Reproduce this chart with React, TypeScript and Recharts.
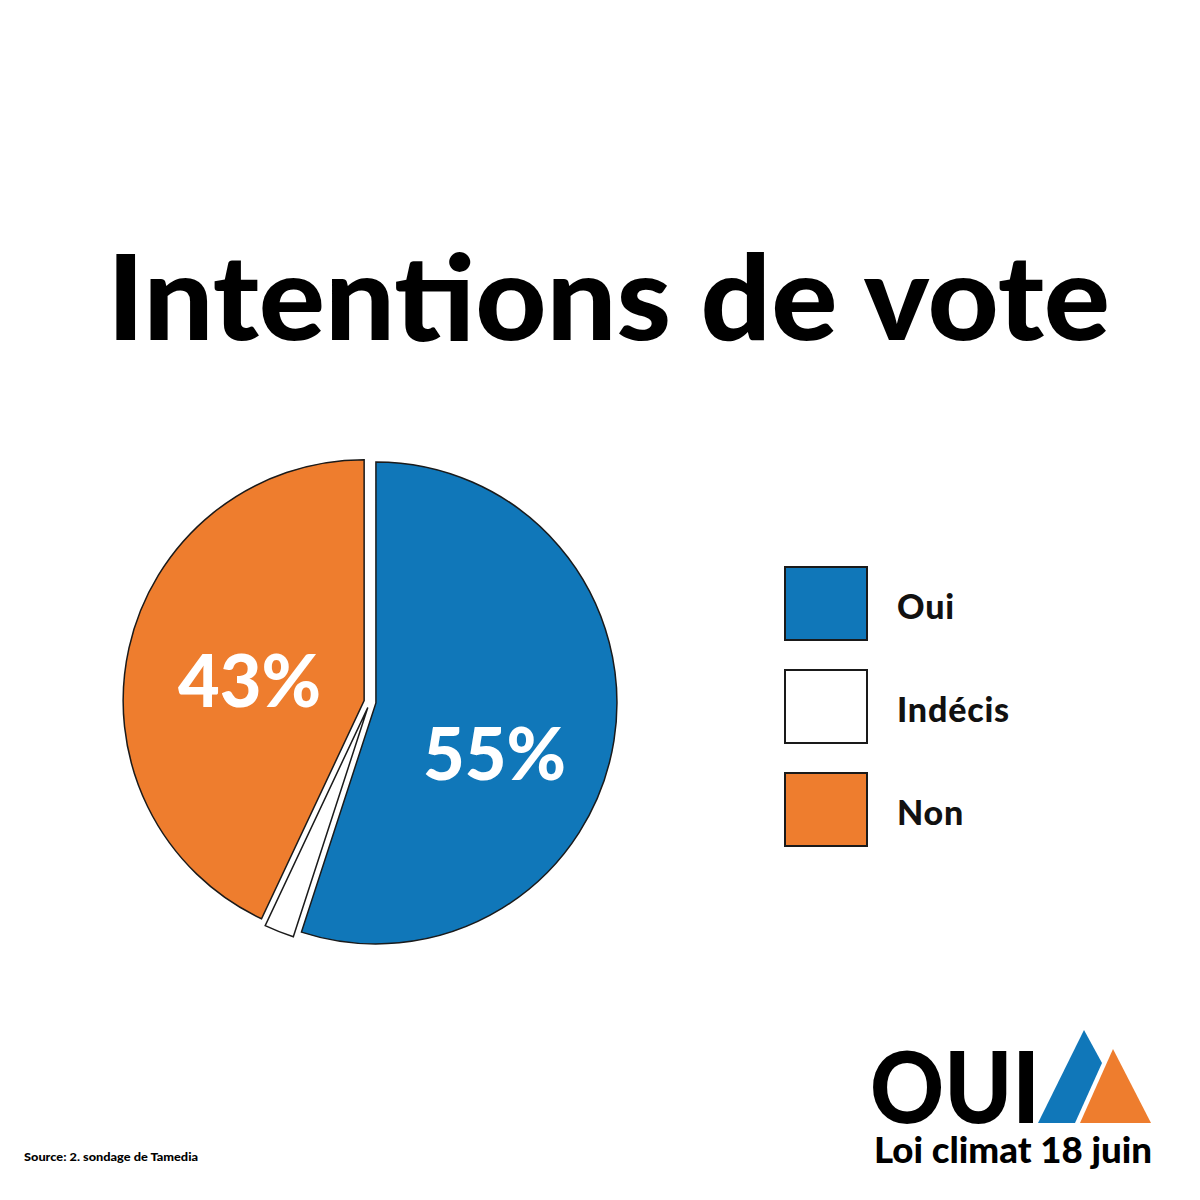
import { PieChart, Pie, Cell, Sector, Legend } from "recharts";

const categories = ["Oui", "Indécis", "Non"];
const shares = [55, 2, 43];
const colors = ["#1077b9", "#ffffff", "#ee7d2e"];

const data = categories.map((name, i) => ({ name, value: shares[i] }));

const FONT = "Lato, 'Open Sans', sans-serif";
const EXPLODE = 6;
const RAD = Math.PI / 180;

// hand tuned label placement, like the original artwork
const labelNudge: Record<string, { angle: number; radius: number }> = {
  Oui: { angle: -13.7, radius: 0.56 },
  Non: { angle: 2.7, radius: 0.507 },
};

function ExplodedSector(props: any) {
  const { cx, cy, midAngle } = props;
  const dx = EXPLODE * Math.cos(-midAngle * RAD);
  const dy = EXPLODE * Math.sin(-midAngle * RAD);
  return <Sector {...props} cx={cx + dx} cy={cy + dy} />;
}

function renderLabel(props: any) {
  const { cx, cy, midAngle, outerRadius, name, value } = props;
  const nudge = labelNudge[name];
  if (!nudge) return null;
  const a = (midAngle + nudge.angle) * RAD;
  const r = outerRadius * nudge.radius;
  const x = cx + r * Math.cos(-a);
  const y = cy + r * Math.sin(-a);
  return (
    <text
      x={x}
      y={y + 26}
      fill="#ffffff"
      textAnchor="middle"
      style={{ fontFamily: FONT, fontWeight: 900, fontSize: 72 }}
    >
      {value}%
    </text>
  );
}

function LegendBoxes({ payload }: any) {
  const items = [...(payload ?? [])].sort(
    (a: any, b: any) => categories.indexOf(a.value) - categories.indexOf(b.value)
  );
  return (
    <div style={{ display: "flex", flexDirection: "column", gap: 28 }}>
      {items.map((p: any) => (
        <div key={p.value} style={{ display: "flex", alignItems: "center" }}>
          <div
            style={{
              width: 84,
              height: 75,
              background: p.color,
              border: "2px solid #1a1a1a",
              boxSizing: "border-box",
            }}
          />
          <span
            style={{
              marginLeft: 29,
              marginTop: 4,
              fontFamily: FONT,
              fontWeight: 900,
              fontSize: 34,
              letterSpacing: 0.8,
              color: "#111",
            }}
          >
            {p.value}
          </span>
        </div>
      ))}
    </div>
  );
}

export default function App() {
  return (
    <div
      style={{
        position: "absolute",
        left: 0,
        top: 0,
        width: 1200,
        height: 1200,
        background: "#ffffff",
        overflow: "hidden",
      }}
    >
      <PieChart
        width={1200}
        height={1200}
        margin={{ top: 0, right: 0, bottom: 0, left: 0 }}
        style={{ position: "absolute", left: 0, top: 0 }}
      >
        <Pie
          data={data}
          dataKey="value"
          nameKey="name"
          cx={370}
          cy={702}
          outerRadius={241}
          startAngle={90}
          endAngle={-270}
          stroke="#1a1a1a"
          strokeWidth={1.5}
          shape={ExplodedSector}
          label={renderLabel}
          labelLine={false}
          isAnimationActive={false}
        >
          {data.map((d, i) => (
            <Cell key={d.name} fill={colors[i]} />
          ))}
        </Pie>
        <Legend
          layout="vertical"
          content={LegendBoxes}
          wrapperStyle={{ position: "absolute", left: 784, top: 566, width: 320, bottom: "auto" }}
        />
      </PieChart>

      <svg
        width={1200}
        height={1200}
        style={{ position: "absolute", left: 0, top: 0, pointerEvents: "none" }}
      >
        <text
          x={107}
          y={340}
          textLength={1003}
          lengthAdjust="spacingAndGlyphs"
          style={{ fontFamily: FONT, fontWeight: 900, fontSize: 118 }}
          fill="#000"
        >
          Intentions de vote
        </text>

        <text
          x={24}
          y={1161}
          textLength={174}
          lengthAdjust="spacingAndGlyphs"
          style={{ fontFamily: FONT, fontWeight: 900, fontSize: 11 }}
          fill="#000"
        >
          Source: 2. sondage de Tamedia
        </text>

        {/* campaign logo */}
        <text
          x={870}
          y={1123}
          textLength={170}
          lengthAdjust="spacingAndGlyphs"
          style={{ fontFamily: FONT, fontWeight: 900, fontSize: 100 }}
          fill="#000"
        >
          OUI
        </text>
        <polygon points="1038,1123 1084,1030 1102,1063 1075,1123" fill="#1077b9" />
        <polygon points="1080,1123 1113,1049 1151,1123" fill="#ee7d2e" />
        <text
          x={874}
          y={1163}
          textLength={278}
          lengthAdjust="spacingAndGlyphs"
          style={{ fontFamily: FONT, fontWeight: 900, fontSize: 36 }}
          fill="#000"
        >
          Loi climat 18 juin
        </text>
      </svg>
    </div>
  );
}
